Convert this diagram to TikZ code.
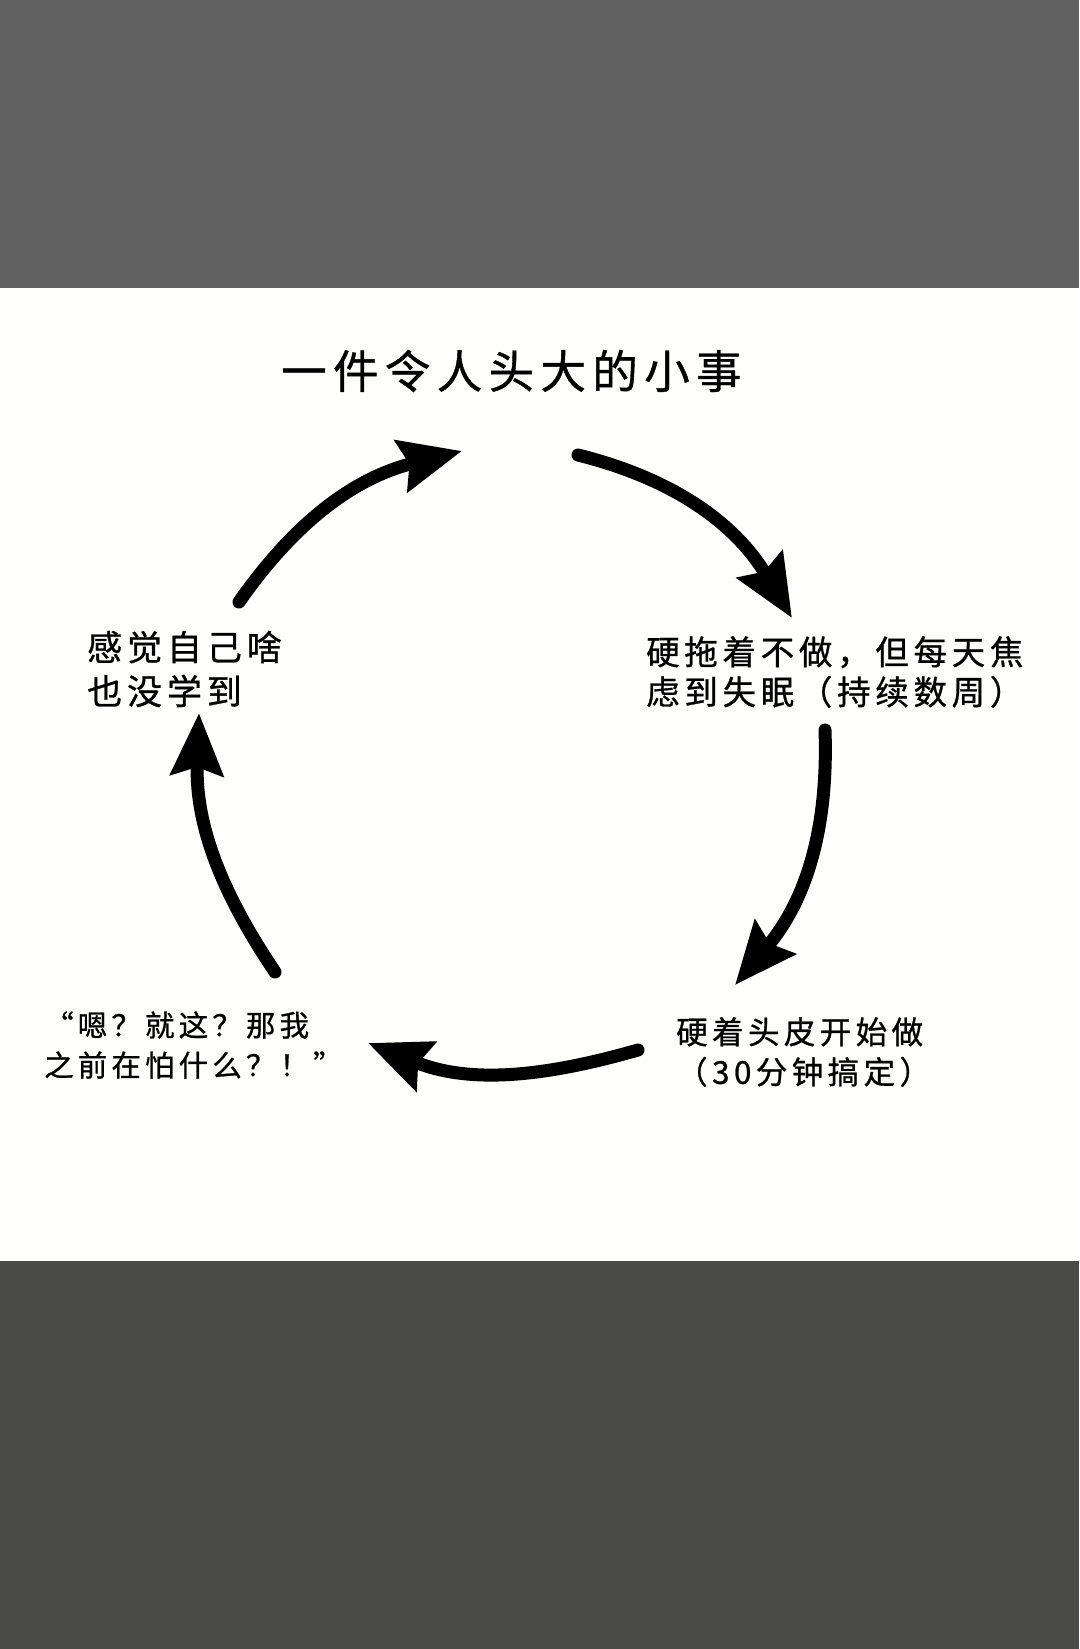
\documentclass[tikz,border=0pt]{standalone}
\usepackage{fontspec}
\newfontfamily\cjk{Noto Sans CJK SC}[LetterSpace=14, FakeBold=0.8]
\usetikzlibrary{arrows.meta}
\definecolor{topband}{HTML}{616161}
\definecolor{bottomband}{HTML}{4A4A49}
\definecolor{paper}{HTML}{FEFEFC}
\tikzset{
	stage/.style={inner sep=0pt, anchor=west, align=left},
	cyc/.style={line width=13pt, line cap=round, -{Stealth[length=62pt, width=52pt, inset=8pt]}}
}
\begin{document}
\begin{tikzpicture}[x=1pt, y=1pt]
	% bands
	\fill[topband] (0, 0) rectangle (1079, -288);
	\fill[paper] (0, -288) rectangle (1079, -1261);
	\fill[bottomband] (0, -1261) rectangle (1079, -1649);
	\useasboundingbox (0, 0) rectangle (1079, -1649);
	
	\node[stage, font={\cjk\fontsize{45.5}{52}\selectfont}] (title) at (281, -371) {一件令人头大的小事};
	\node[stage, font={\cjk\fontsize{33.5}{40}\selectfont}] (delay) at (646, -672) {硬拖着不做，但每天焦\\虑到失眠（持续数周）};
	\node[stage, font={\cjk\fontsize{31.5}{40}\selectfont}] (start) at (676, -1052) {硬着头皮开始做\\（30分钟搞定）};
	\node[stage, font={\cjk\fontsize{29.5}{40}\selectfont}] (relief) at (44, -1045) {“嗯？就这？那我\\之前在怕什么？！”};
	\node[stage, font={\cjk\fontsize{35}{44}\selectfont}] (learn) at (87, -669) {感觉自己啥\\也没学到};
	
	\coordinate (t1) at (239, -602); \coordinate (h1) at (462, -451);
	\coordinate (t2) at (578, -455); \coordinate (h2) at (792, -618);
	\coordinate (t3) at (825, -730); \coordinate (h3) at (735, -985);
	\coordinate (t4) at (638, -1050); \coordinate (h4) at (368, -1043);
	\coordinate (t5) at (275, -972); \coordinate (h5) at (199, -713);
	
	\foreach \a/\b/\o/\i in {t1/h1/55/194, t2/h2/-14/121, t3/h3/-88/50, t4/h4/196/-22, t5/h5/124/268}
	\draw[cyc] (\a) to[out=\o, in=\i] (\b);
\end{tikzpicture}
\end{document}
